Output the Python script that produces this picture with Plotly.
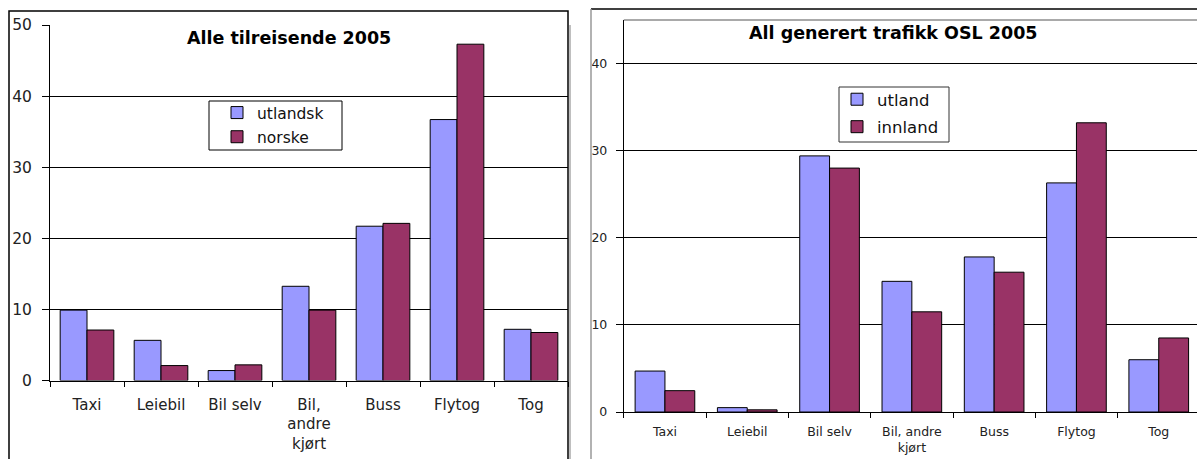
import plotly.graph_objects as go

# Categories and values, left panel: all arriving travellers 2005
kat_venstre = ["Taxi", "Leiebil", "Bil selv", "Bil,<br>andre<br>kjørt", "Buss", "Flytog", "Tog"]
utlandsk = [9.9, 5.65, 1.4, 13.25, 21.7, 36.7, 7.2]
norske = [7.1, 2.1, 2.2, 9.9, 22.1, 47.3, 6.75]
y_ticks_venstre = [0, 10, 20, 30, 40, 50]

# Right panel: all generated traffic OSL 2005
kat_hoyre = ["Taxi", "Leiebil", "Bil selv", "Bil, andre<br>kjørt", "Buss", "Flytog", "Tog"]
utland = [4.7, 0.5, 29.4, 15.0, 17.8, 26.3, 6.0]
innland = [2.45, 0.25, 28.0, 11.5, 16.05, 33.2, 8.5]
y_ticks_hoyre = [0, 10, 20, 30, 40]

BLA = "#9999FF"
ROD = "#993366"
FONT = "DejaVu Sans"
W, H = 1197, 459


def px_x(x):
    return x / W


def px_y(y):
    return 1 - y / H


fig = go.Figure()

fig.add_bar(x=kat_venstre, y=utlandsk, name="utlandsk", marker=dict(color=BLA, line=dict(color="black", width=1)),
            xaxis="x", yaxis="y", legend="legend", legendgroup="a")
fig.add_bar(x=kat_venstre, y=norske, name="norske", marker=dict(color=ROD, line=dict(color="black", width=1)),
            xaxis="x", yaxis="y", legend="legend", legendgroup="b")
fig.add_bar(x=kat_hoyre, y=utland, name="utland", marker=dict(color=BLA, line=dict(color="black", width=1)),
            xaxis="x2", yaxis="y2", legend="legend2", legendgroup="c")
fig.add_bar(x=kat_hoyre, y=innland, name="innland", marker=dict(color=ROD, line=dict(color="black", width=1)),
            xaxis="x2", yaxis="y2", legend="legend2", legendgroup="d")

tick_font_l = dict(family=FONT, size=15, color="#222")
tick_font_r = dict(family=FONT, size=12.5, color="#222")

# right panel category spacing extends slightly past the page edge
hoyre_venstrekant = 623.8
hoyre_steg = 82.3
hoyre_maks = -0.5 + (W - hoyre_venstrekant) / hoyre_steg

fig.update_layout(
    width=W, height=H,
    margin=dict(l=0, r=0, t=0, b=0, autoexpand=False),
    paper_bgcolor="white", plot_bgcolor="white",
    barmode="group", bargap=0.275, bargroupgap=0,
    showlegend=True,
    xaxis=dict(domain=[px_x(50), px_x(568)], type="category", range=[-0.5, 6.5],
               showline=True, linecolor="black", linewidth=1, automargin=False,
               ticks="outside", tickson="boundaries", ticklen=5, tickcolor="black",
               tickfont=tick_font_l, showgrid=False, ticklabelstandoff=10),
    yaxis=dict(domain=[px_y(380.5), px_y(25)], range=[0, 50], tickvals=y_ticks_venstre,
               showline=True, linecolor="black", linewidth=1, automargin=False,
               ticks="outside", ticklen=7, tickcolor="black",
               showgrid=True, gridcolor="black", gridwidth=1, zeroline=False,
               tickfont=dict(family=FONT, size=15.5, color="#222"), ticklabelstandoff=7),
    xaxis2=dict(domain=[px_x(hoyre_venstrekant), 1], type="category", range=[-0.5, hoyre_maks],
                showline=True, linecolor="black", linewidth=1, automargin=False,
                ticks="outside", tickson="boundaries", ticklen=5, tickcolor="black",
                tickfont=tick_font_r, showgrid=False, ticklabelstandoff=8, anchor="y2"),
    yaxis2=dict(domain=[px_y(412), px_y(20)], range=[0, 45], tickvals=y_ticks_hoyre,
                showline=True, linecolor="black", linewidth=1, automargin=False,
                ticks="outside", ticklen=7, tickcolor="black",
                showgrid=True, gridcolor="black", gridwidth=1, zeroline=False,
                tickfont=tick_font_r, ticklabelstandoff=6, anchor="x2"),
    legend=dict(x=px_x(217), y=px_y(96), xanchor="left", yanchor="top",
                bgcolor="rgba(0,0,0,0)", borderwidth=0, tracegroupgap=1,
                font=dict(family=FONT, size=15.5, color="#111")),
    legend2=dict(x=px_x(837), y=px_y(82), xanchor="left", yanchor="top",
                 bgcolor="rgba(0,0,0,0)", borderwidth=0, tracegroupgap=3,
                 font=dict(family=FONT, size=16.5, color="#111")),
)

shapes = [
    # left chart frame
    dict(type="rect", xref="paper", yref="paper", x0=px_x(9), y0=px_y(470), x1=px_x(568), y1=px_y(11),
         line=dict(color="black", width=1.5), layer="above"),
    dict(type="line", xref="paper", yref="paper", x0=px_x(570), y0=px_y(25), x1=px_x(570), y1=px_y(470),
         line=dict(color="#aaa", width=1.5)),
    # left legend box
    dict(type="rect", xref="paper", yref="paper", x0=px_x(209), y0=px_y(150), x1=px_x(342), y1=px_y(101),
         line=dict(color="black", width=1), fillcolor="white", layer="below"),
    # right chart frame
    dict(type="line", xref="paper", yref="paper", x0=px_x(591), y0=px_y(9), x1=1, y1=px_y(9),
         line=dict(color="black", width=1.5)),
    dict(type="line", xref="paper", yref="paper", x0=px_x(591), y0=px_y(9), x1=px_x(591), y1=px_y(470),
         line=dict(color="#999", width=1.5)),
    # right plot-area top edge
    dict(type="line", xref="paper", yref="paper", x0=px_x(hoyre_venstrekant), y0=px_y(20), x1=1, y1=px_y(20),
         line=dict(color="#555", width=1)),
    # right legend box
    dict(type="rect", xref="paper", yref="paper", x0=px_x(839), y0=px_y(142), x1=px_x(949), y1=px_y(87),
         line=dict(color="#333", width=1), fillcolor="white", layer="below"),
]
fig.update_layout(shapes=shapes)

fig.add_annotation(text="<b>Alle tilreisende 2005</b>", xref="paper", yref="paper",
                   x=px_x(289), y=px_y(38), xanchor="center", yanchor="middle", showarrow=False,
                   font=dict(family=FONT, size=17.5, color="black"))
fig.add_annotation(text="<b>All generert trafikk OSL 2005</b>", xref="paper", yref="paper",
                   x=px_x(893), y=px_y(33), xanchor="center", yanchor="middle", showarrow=False,
                   font=dict(family=FONT, size=17.5, color="black"))

fig.write_html("out.html")
